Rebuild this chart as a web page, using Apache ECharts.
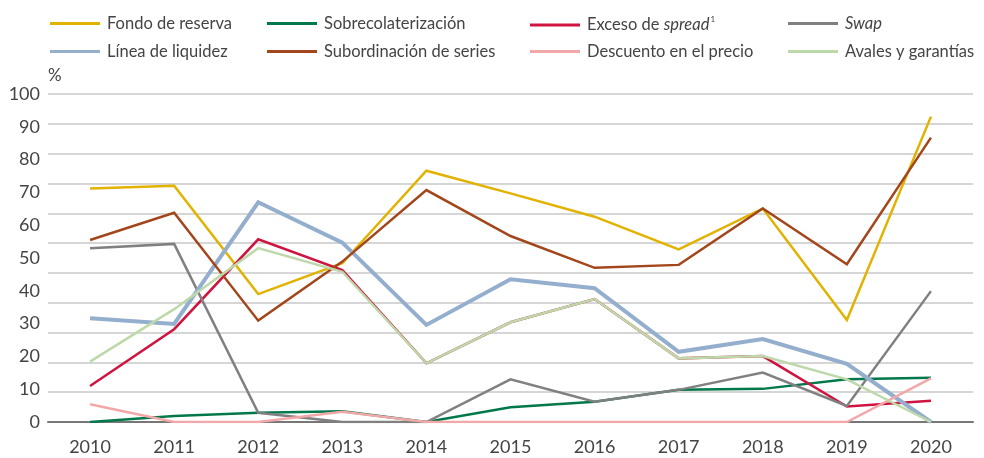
<!DOCTYPE html>
<html>
<head>
<meta charset="utf-8">
<script src="https://cdn.jsdelivr.net/npm/echarts@6/dist/echarts.min.js"></script>
<style>
  html, body { margin: 0; padding: 0; background: #fff; }
  #chart { width: 984px; height: 458px; }
</style>
</head>
<body>
<div id="chart"></div>
<script>
// Years on the horizontal axis
const years = ['2010', '2011', '2012', '2013', '2014', '2015', '2016', '2017', '2018', '2019', '2020'];

// Share of issues using each credit enhancement (%)
const fondoReserva      = [71.2, 72.0, 39.0, 48.4, 76.6, 69.7, 62.6, 52.6, 65.1, 31.1, 93.1];
const sobrecolat        = [0, 1.8, 2.8, 3.3, 0, 4.5, 6.2, 9.8, 10.1, 13.0, 13.5];
const excesoSpread      = [11.0, 28.3, 55.7, 46.3, 17.9, 30.4, 37.5, 19.4, 20.1, 4.7, 6.5];
const swap              = [53.0, 54.3, 2.8, 0, 0, 13.0, 6.2, 9.8, 15.1, 4.9, 39.9];
const lineaLiquidez     = [31.6, 29.9, 67.0, 54.7, 29.6, 43.5, 40.8, 21.4, 25.3, 17.7, 0];
const subordinacion     = [55.5, 63.8, 30.9, 48.9, 70.7, 56.7, 47.0, 47.9, 65.1, 48.1, 86.7];
const descuentoPrecio   = [5.4, 0, 0, 3.1, 0, 0, 0, 0, 0, 0, 13.3];
const avalesGarantias   = [18.4, 34.4, 53.0, 45.8, 17.9, 30.4, 37.5, 19.4, 20.1, 13.0, 0];

// Tick labels for the value axis
const yTicks = [0, 10, 20, 30, 40, 50, 60, 70, 80, 90, 100];

const seriesDefs = [
  { name: 'Fondo de reserva',        data: fondoReserva,    color: '#E2B200', width: 2.5 },
  { name: 'Sobrecolaterización',     data: sobrecolat,      color: '#00784A', width: 2.5 },
  { name: 'Exceso de spread',        data: excesoSpread,    color: '#CF1440', width: 2.5 },
  { name: 'Swap',                    data: swap,            color: '#808080', width: 2.5 },
  { name: 'Línea de liquidez',       data: lineaLiquidez,   color: '#94AECD', width: 4 },
  { name: 'Subordinación de series', data: subordinacion,   color: '#A3461B', width: 2.5 },
  { name: 'Descuento en el precio',  data: descuentoPrecio, color: '#F2A8A8', width: 2.5 },
  { name: 'Avales y garantías',      data: avalesGarantias, color: '#BDD9AA', width: 2.5 }
];

const FONT = 'Lato, "Open Sans", sans-serif';
const TEXT_COLOR = '#444444';

// Legend laid out as a 4 x 2 block
const legendCols = [45, 262, 525, 783];
const legendRows = [10, 38];
const legends = seriesDefs.map((s, i) => ({
  data: [s.name],
  left: legendCols[i % 4],
  top: legendRows[Math.floor(i / 4)],
  icon: 'rect',
  itemWidth: 50,
  itemHeight: 3,
  selectedMode: false,
  formatter: function (name) {
    if (name === 'Exceso de spread') return '{n|Exceso de }{i|spread}{s|1}';
    if (name === 'Swap') return '{i|Swap}';
    return '{n|' + name + '}';
  },
  textStyle: {
    padding: [0, 0, 0, 2],
    rich: {
      n: { fontFamily: FONT, fontSize: 16.5, color: TEXT_COLOR, lineHeight: 20 },
      i: { fontFamily: FONT, fontSize: 16.5, color: TEXT_COLOR, fontStyle: 'italic', lineHeight: 20 },
      s: { fontFamily: FONT, fontSize: 8, color: TEXT_COLOR, verticalAlign: 'top', lineHeight: 20, padding: [0, 0, 10, 1] }
    }
  }
}));

const chart = echarts.init(document.getElementById('chart'), null, { renderer: 'canvas' });

chart.setOption({
  animation: false,
  backgroundColor: '#ffffff',
  legend: legends,
  grid: { left: 48, right: 11, top: 94, bottom: 36, containLabel: false },
  graphic: [{
    type: 'text',
    left: 48,
    top: 67,
    style: { text: '%', font: '17px ' + FONT, fill: TEXT_COLOR }
  }],
  xAxis: {
    type: 'category',
    data: years,
    boundaryGap: true,
    axisLine: { show: true, lineStyle: { color: '#777777', width: 2 } },
    axisTick: { show: false },
    splitLine: { show: false },
    axisLabel: { margin: 16, fontFamily: FONT, fontSize: 18, color: TEXT_COLOR }
  },
  yAxis: [
    {
      // value scale carrying the tick labels
      type: 'value',
      min: yTicks[0],
      max: yTicks[yTicks.length - 1],
      interval: 10,
      axisLine: { show: false },
      axisTick: { show: false },
      splitLine: { show: false },
      axisLabel: { margin: 8, fontFamily: FONT, fontSize: 18, color: TEXT_COLOR }
    },
    {
      // grid rulings
      type: 'value',
      min: 0,
      max: 110,
      interval: 10,
      axisLine: { show: false },
      axisTick: { show: false },
      axisLabel: { show: false },
      splitLine: { show: true, lineStyle: { color: '#C9C9C9', width: 1.5 } }
    }
  ],
  series: seriesDefs.map(s => ({
    name: s.name,
    type: 'line',
    yAxisIndex: 0,
    data: s.data,
    symbol: 'none',
    smooth: false,
    color: s.color,
    lineStyle: { color: s.color, width: s.width, join: 'miter' },
    emphasis: { disabled: true }
  }))
});
</script>
</body>
</html>
